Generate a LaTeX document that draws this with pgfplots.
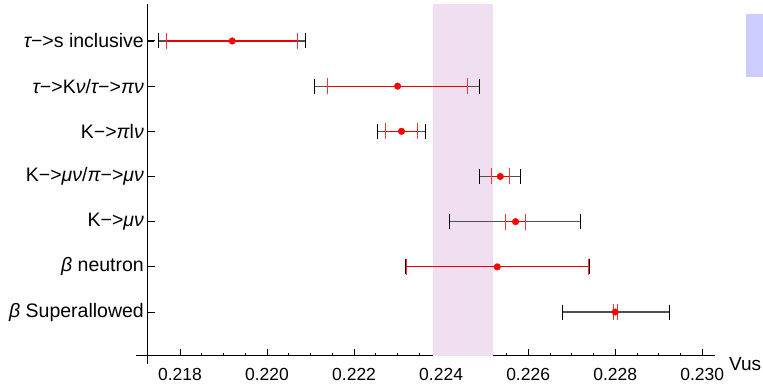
\documentclass[border=0pt]{standalone}
\usepackage{fontspec}
\setmainfont{Liberation Sans}
\usepackage{pgfplots}
\pgfplotsset{compat=1.18}
\usepackage{pgfplotstable}
\definecolor{band}{RGB}{240,223,240}
\definecolor{legblue}{RGB}{204,204,255}
\definecolor{barblack}{RGB}{80,80,80}

% y  centre  red-low  red-high  black-low  black-high
\pgfplotstableread{
y c rl rh bl bh
7 0.21920 0.21769 0.22070 0.21750 0.22089
6 0.22300 0.22139 0.22460 0.22110 0.22489
5 0.22309 0.22273 0.22346 0.22253 0.22365
4 0.22536 0.22515 0.22558 0.22489 0.22583
3 0.22571 0.22548 0.22593 0.22420 0.22721
2 0.22529 0.22320 0.22738 0.22317 0.22742
1 0.22800 0.22796 0.22805 0.22678 0.22924
}\data

\newcommand{\gr}[1]{{\itshape #1}}

\begin{document}
\begin{tikzpicture}
\begin{axis}[
  scale only axis, width=567.5pt, height=351.9pt,
  xmin=0.21725, xmax=0.23029, ymin=0.03, ymax=7.82,
  axis lines*=left,
  axis line style={line width=0.8pt},
  clip=false,
  xtick={0.218,0.220,0.222,0.224,0.226,0.228,0.230},
  minor x tick num=3,
  ytick={1,2,3,4,5,6,7},
  ytick pos=left,
  yticklabels={\gr{β} Superallowed, \gr{β} neutron, K−>\gr{μν}, K−>\gr{μν}/\gr{π}−>\gr{μν}, K−>\gr{π}l\gr{ν}, \gr{τ}−>K\gr{ν}/\gr{τ}−>\gr{πν}, \gr{τ}−>s inclusive},
  tick align=inside,
  major tick length=7pt, minor tick length=3pt,
  tick style={black, line width=0.8pt},
  scaled x ticks=false,
  xticklabel style={font=\fontsize{17.5}{19}\selectfont, yshift=-9pt,
    /pgf/number format/.cd, fixed, fixed zerofill, precision=3, assume math mode=true},
  yticklabel style={font=\fontsize{19.5}{21}\selectfont},
]
% band
\addplot[fill=band, draw=none] coordinates {(0.22382,0.03) (0.22519,0.03) (0.22519,7.82) (0.22382,7.82)} -- cycle;

% black (outer) bars
\addplot[draw=none, mark=none, forget plot,
  error bars/.cd, x dir=both, x explicit, error mark=none,
  error bar style={barblack, line width=1.2pt}]
  table[x=c, y=y, x error plus expr=\thisrow{bh}-\thisrow{c}, x error minus expr=\thisrow{c}-\thisrow{bl}] {\data};
\addplot[only marks, mark=|, mark size=7.5pt, black, mark options={line width=1pt}] table[x=bl, y=y] {\data};
\addplot[only marks, mark=|, mark size=7.5pt, black, mark options={line width=1pt}] table[x=bh, y=y] {\data};

% red (inner) bars
\addplot[draw=none, mark=none, forget plot,
  error bars/.cd, x dir=both, x explicit, error mark=none,
  error bar style={red!92!black, line width=1.2pt}]
  table[x=c, y=y, x error plus expr=\thisrow{rh}-\thisrow{c}, x error minus expr=\thisrow{c}-\thisrow{rl}] {\data};
\addplot[only marks, mark=|, mark size=8pt, red!80, mark options={line width=0.9pt}] table[x=rl, y=y] {\data};
\addplot[only marks, mark=|, mark size=8pt, red!80, mark options={line width=0.9pt}] table[x=rh, y=y] {\data};

% central values
\addplot[only marks, mark=*, mark size=3.3pt, red] table[x=c, y=y] {\data};

% y ticks pointing inward
\addplot[only marks, mark=-, mark size=4pt, black, mark options={line width=1pt, xshift=4pt}, forget plot] coordinates {(0.21725,1) (0.21725,2) (0.21725,3) (0.21725,4) (0.21725,5) (0.21725,6) (0.21725,7)};

% axis extensions
\draw[line width=0.8pt] (axis cs:0.21700,0.03) -- (axis cs:0.21725,0.03);
\draw[line width=0.8pt] (axis cs:0.21725,-0.151) -- (axis cs:0.21725,0.03);

% axis label
\node[anchor=north west, inner sep=0pt, font=\fontsize{19}{21}\selectfont] at (axis cs:0.23029,0.03) [xshift=14pt, yshift=-1pt] {Vus};

% cut-off legend swatch
\fill[legblue] (axis cs:0.231005,6.203) rectangle (axis cs:0.231396,7.597);

\coordinate (bbbl) at (axis cs:0.213864,-0.660);
\coordinate (bbtr) at (axis cs:0.231396,7.907);
\end{axis}
\pgfresetboundingbox
\useasboundingbox (bbbl) rectangle (bbtr);
\end{tikzpicture}
\end{document}
